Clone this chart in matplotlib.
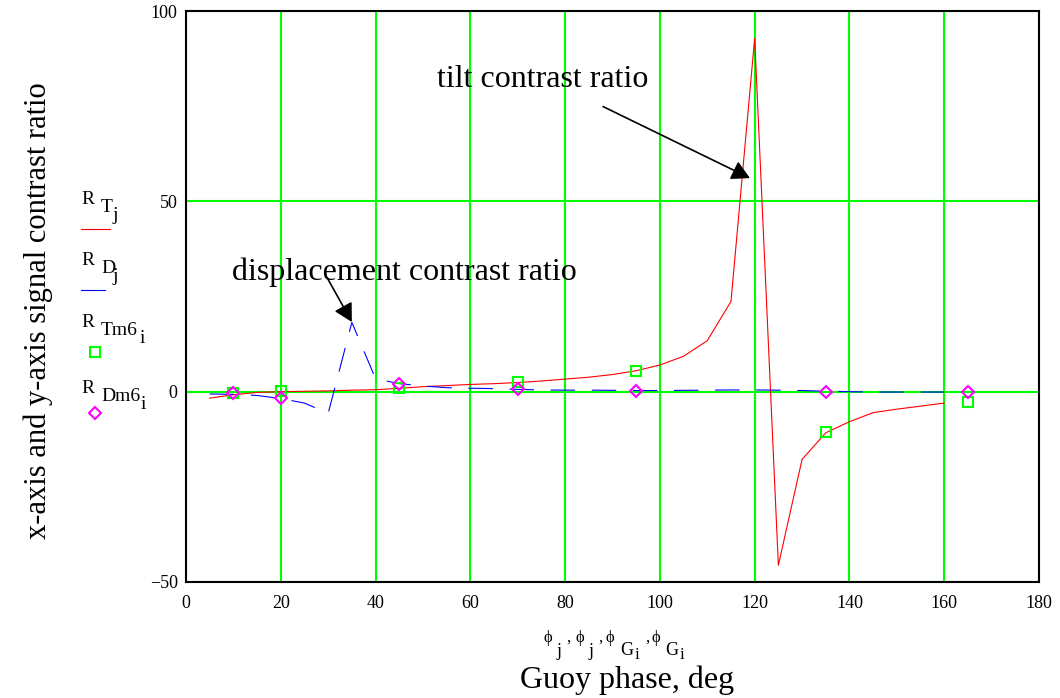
import matplotlib
matplotlib.use('Agg')
from matplotlib import pyplot as plt
from matplotlib.lines import Line2D

plt.rcParams['font.family'] = ['Liberation Serif', 'DejaVu Serif']

# --- data ---
phi_j = [5, 10, 15, 20, 25, 30, 35, 40, 45, 50, 55, 60, 65, 70, 75, 80,
         85, 90, 95, 100, 105, 110, 115, 120, 125, 130, 135, 140, 145, 150, 155, 160]
R_T = [-1.7, -0.8, -0.2, 0.0, 0.1, 0.2, 0.4, 0.5, 0.9, 1.3, 1.6, 1.9, 2.1, 2.4, 2.8, 3.3,
       3.8, 4.5, 5.5, 7.0, 9.3, 13.4, 23.7, 92.8, -45.6, -17.8, -10.8, -7.9, -5.5, -4.6, -3.8, -3.0]
R_D = [-0.6, -0.7, -1.0, -1.8, -3.0, -5.7, 18.2, 3.4, 2.1, 1.5, 1.05, 0.9, 0.8, 0.6, 0.45, 0.4,
       0.4, 0.35, 0.3, 0.3, 0.35, 0.4, 0.45, 0.45, 0.4, 0.3, 0.1, 0.0, -0.1, -0.1, -0.1, -0.1]
phi_G = [10, 20, 45, 70, 95, 135, 165]
R_Tm6 = [-0.4, 0.2, 0.9, 2.6, 5.4, -10.7, -2.6]
R_Dm6 = [-0.4, -1.6, 2.0, 0.7, 0.3, 0.0, 0.0]

xticks = [0, 20, 40, 60, 80, 100, 120, 140, 160, 180]
yticks = [-50, 0, 50, 100]

W, H = 1060, 698
fig = plt.figure(figsize=(W/100, H/100), dpi=100)

def fx(x):
    return x / W

def fy(y):
    return 1 - y / H

ax = fig.add_axes([fx(186), fy(582), fx(1039) - fx(186), fy(11) - fy(582)])
ax.set_xlim(0, 180)
ax.set_ylim(-50, 100)
ax.set_xticks(xticks)
ax.set_yticks(yticks)
ax.tick_params(length=0, labelsize=13)
ax.tick_params(axis='x', pad=9)
ax.tick_params(axis='y', pad=6)
ax.grid(True, color='#00ff00', lw=1.5)
ax.set_axisbelow(True)
for sp in ax.spines.values():
    sp.set_color('k')
    sp.set_linewidth(1.5)

ax.plot(phi_j, R_T, color='#ff0000', lw=0.8)
ax.plot(phi_j, R_D, color='#0000ff', lw=0.8, dashes=(22, 15))
ax.plot(phi_G, R_Tm6, ls='none', marker='s', ms=6.5, mfc='none', mec='#00ff00', mew=1.5)
ax.plot(phi_G, R_Dm6, ls='none', marker='D', ms=6.5, mfc='none', mec='#ff00ff', mew=1.5)

arrow = dict(arrowstyle='-|>,head_length=0.55,head_width=0.3', mutation_scale=20,
             color='k', lw=1.2, shrinkA=0, shrinkB=0)
ax.text(53.0, 81.9, 'tilt contrast ratio', fontsize=23, va='center', ha='left')
ax.annotate('', xy=(119.0, 56.1), xytext=(88.0, 74.9), arrowprops=arrow)
ax.text(9.7, 31.4, 'displacement contrast ratio', fontsize=23, va='center', ha='left')
ax.annotate('', xy=(35.0, 18.3), xytext=(29.8, 29.9), arrowprops=arrow)

def put(s, x, y, size=14, **kw):
    fig.text(fx(x), fy(y), s, fontsize=size, ha='left', va='baseline', **kw)

# legend, Mathcad style
for b, main, subx, sub in [(204, 'T', 112, 'j'), (265, 'D', 113, 'j'),
                           (327, 'Tm6', 140, 'i'), (393, 'Dm6', 141, 'i')]:
    put('R', 81, b)
    put(main, 101, b + 8)
    put(sub, subx, b + 16)
fig.add_artist(Line2D([fx(81), fx(110)], [fy(228.5)] * 2, color='#ff0000', lw=0.8))
fig.add_artist(Line2D([fx(81), fx(105)], [fy(290)] * 2, color='#0000ff', lw=0.8))
fig.add_artist(Line2D([fx(95)], [fy(352)], marker='s', ms=6.5, mfc='none', mec='#00ff00', mew=1.5))
fig.add_artist(Line2D([fx(95)], [fy(413)], marker='D', ms=6.5, mfc='none', mec='#ff00ff', mew=1.5))

# x label line of symbols
for s, x, y, size in [('ϕ', 544, 642, 12), ('j', 557, 656, 13), (',', 566, 642, 12),
                      ('ϕ', 575, 642, 12), ('j', 589, 656, 13), (',', 598, 642, 12),
                      ('ϕ', 606, 642, 12), ('G', 620, 655, 13), ('i', 635, 659, 12), (',', 645, 642, 12),
                      ('ϕ', 651, 642, 12), ('G', 665, 655, 13), ('i', 680, 659, 12)]:
    put(s, x, y, size)

fig.text(fx(627), fy(688), 'Guoy phase, deg', fontsize=23, ha='center', va='baseline')
fig.text(fx(38), fy(311), 'x-axis and y-axis signal contrast ratio', fontsize=22,
         rotation=90, ha='center', va='center')

fig.savefig('out.png', dpi=100)
